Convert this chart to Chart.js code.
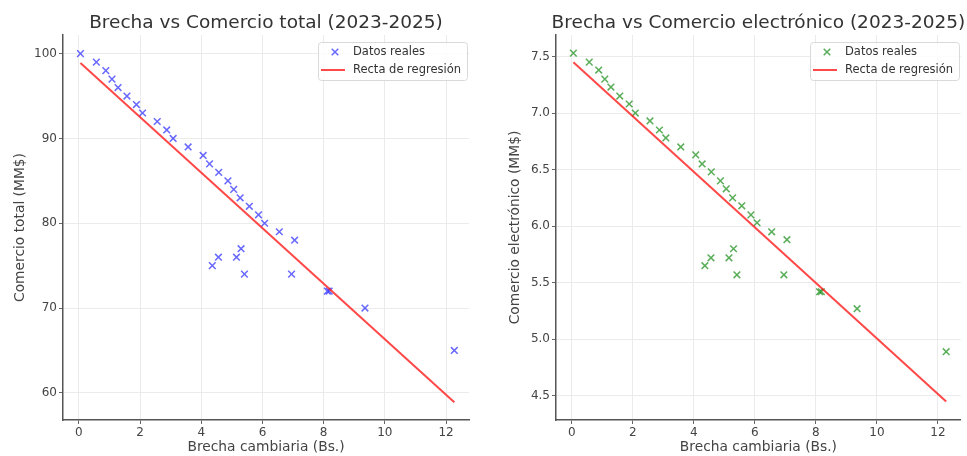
<!DOCTYPE html>
<html lang="es">
<head>
<meta charset="utf-8">
<title>Brecha cambiaria vs Comercio (2023-2025)</title>
<script src="https://cdn.jsdelivr.net/npm/chart.js@4.4.1/dist/chart.umd.min.js"></script>
<style>
  html, body { margin: 0; padding: 0; background: #fff; }
  #lienzo { position: relative; width: 967px; height: 456px; overflow: hidden; }
  canvas { position: absolute; top: 0; }
  #graficoTotal { left: 0; }
  #graficoElectronico { left: 484px; }
</style>
</head>
<body>
<div id="lienzo">
  <canvas id="graficoTotal" width="484" height="456"></canvas>
  <canvas id="graficoElectronico" width="483" height="456"></canvas>
</div>
<script>
// Datos (2023-2025)
const brecha = [0.05, 0.57, 0.88, 1.08, 1.28, 1.57, 1.88, 2.08, 2.56, 2.87, 3.08,
  3.57, 4.06, 4.27, 4.57, 4.87, 5.06, 5.27, 5.57, 5.87, 6.07, 6.55, 7.05,
  4.36, 4.56, 5.15, 5.30, 5.41, 6.95, 8.12, 8.18, 9.35, 12.27];
const comercioTotal = [100, 99, 98, 97, 96, 95, 94, 93, 92, 91, 90,
  89, 88, 87, 86, 85, 84, 83, 82, 81, 80, 79, 78,
  75, 76, 76, 77, 74, 74, 72, 72, 70, 65];
const comercioElectronico = [7.53, 7.45, 7.38, 7.30, 7.23, 7.15, 7.08, 7.00, 6.93, 6.85, 6.78,
  6.70, 6.63, 6.55, 6.48, 6.40, 6.33, 6.25, 6.18, 6.10, 6.03, 5.95, 5.88,
  5.65, 5.72, 5.72, 5.80, 5.57, 5.57, 5.42, 5.42, 5.27, 4.89];

// Extremos de las rectas de regresión
const regresionX = [0.05, 12.27];
const regresionTotal = [98.9, 58.9];
const regresionElectronico = [7.45, 4.45];

// Marcas de los ejes
const ticksBrecha = [0, 2, 4, 6, 8, 10, 12];
const ticksTotal = [60, 70, 80, 90, 100];
const ticksElectronico = [4.5, 5.0, 5.5, 6.0, 6.5, 7.0, 7.5];

Chart.defaults.font.family = "'DejaVu Sans', sans-serif";

// Título centrado sobre el área del gráfico y leyenda dentro, arriba a la derecha
const tituloYLeyenda = {
  id: "tituloYLeyenda",
  afterDraw(chart, args, opts) {
    const { ctx, chartArea } = chart;
    ctx.save();
    ctx.font = "18.5px 'DejaVu Sans'";
    ctx.fillStyle = "#333";
    ctx.textAlign = "center";
    ctx.textBaseline = "alphabetic";
    ctx.fillText(opts.titulo, (chartArea.left + chartArea.right) / 2, 28);

    ctx.font = "11.5px 'DejaVu Sans'";
    const datasets = chart.data.datasets;
    const anchoTexto = Math.max(...datasets.map((d) => ctx.measureText(d.label).width));
    const ancho = Math.round(35 + anchoTexto + 6);
    const alto = 38;
    const x0 = Math.round(chartArea.right - 2 - ancho);
    const y0 = Math.round(chartArea.top + 7);
    ctx.beginPath();
    ctx.roundRect(x0 + 0.5, y0 + 0.5, ancho, alto, 3);
    ctx.fillStyle = "rgba(255,255,255,0.85)";
    ctx.fill();
    ctx.strokeStyle = "#d9d9d9";
    ctx.lineWidth = 1;
    ctx.stroke();

    datasets.forEach((d, i) => {
      const yc = y0 + 10 + i * 18;
      ctx.strokeStyle = d.borderColor;
      if (d.showLine) {
        ctx.lineWidth = d.borderWidth;
        ctx.beginPath();
        ctx.moveTo(x0 + 3, yc);
        ctx.lineTo(x0 + 27, yc);
        ctx.stroke();
      } else {
        const r = 3.3;
        ctx.lineWidth = d.pointBorderWidth;
        ctx.beginPath();
        ctx.moveTo(x0 + 17 - r, yc - r);
        ctx.lineTo(x0 + 17 + r, yc + r);
        ctx.moveTo(x0 + 17 - r, yc + r);
        ctx.lineTo(x0 + 17 + r, yc - r);
        ctx.stroke();
      }
      ctx.fillStyle = "#333";
      ctx.textAlign = "left";
      ctx.textBaseline = "middle";
      ctx.fillText(d.label, x0 + 35, yc);
    });
    ctx.restore();
  },
};

function crearGrafico(id, cfg) {
  const puntos = brecha.map((x, i) => ({ x: x, y: cfg.valores[i] }));
  const recta = regresionX.map((x, i) => ({ x: x, y: cfg.regresion[i] }));

  return new Chart(document.getElementById(id), {
    type: "scatter",
    data: {
      datasets: [
        {
          label: "Datos reales",
          data: puntos,
          pointStyle: "crossRot",
          pointRadius: 4.7,
          pointHoverRadius: 4.7,
          pointBorderWidth: 1.5,
          borderColor: cfg.color,
          backgroundColor: cfg.color,
          order: 2,
        },
        {
          label: "Recta de regresión",
          data: recta,
          showLine: true,
          borderColor: "rgba(255, 20, 20, 0.78)",
          borderWidth: 2,
          pointRadius: 0,
          order: 1,
        },
      ],
    },
    options: {
      responsive: false,
      animation: false,
      devicePixelRatio: 1,
      layout: { padding: { top: 35, right: cfg.margenDer, left: 0, bottom: 0 } },
      plugins: {
        legend: { display: false },
        tooltip: { enabled: false },
        tituloYLeyenda: { titulo: cfg.titulo },
      },
      scales: {
        x: {
          type: "linear",
          min: -0.52,
          max: 12.75,
          afterFit: (s) => { s.height = 36; },
          afterBuildTicks: (s) => { s.ticks = ticksBrecha.map((v) => ({ value: v })); },
          ticks: { font: { size: 12 }, color: "#444", padding: 2, callback: (v) => String(v) },
          grid: { color: "#ebebeb", tickLength: 4, tickColor: "#666" },
          border: { color: "#555", width: 1.5 },
          title: {
            display: true,
            text: "Brecha cambiaria (Bs.)",
            font: { size: 13.8 },
            color: "#444",
            padding: { top: 0, bottom: 0 },
          },
        },
        y: {
          type: "linear",
          min: cfg.yMin,
          max: cfg.yMax,
          afterFit: (s) => { s.width = cfg.anchoEjeY; },
          afterBuildTicks: (s) => { s.ticks = cfg.ticks.map((v) => ({ value: v })); },
          ticks: { font: { size: 12 }, color: "#444", padding: 2, callback: cfg.formato },
          grid: { color: "#ebebeb", tickLength: 4, tickColor: "#666" },
          border: { color: "#555", width: 1.5 },
          title: {
            display: true,
            text: cfg.tituloY,
            font: { size: 13.8 },
            color: "#444",
            padding: { top: cfg.margenTituloY, bottom: 0 },
          },
        },
      },
    },
    plugins: [tituloYLeyenda],
  });
}

document.addEventListener("DOMContentLoaded", function () {
  crearGrafico("graficoTotal", {
    titulo: "Brecha vs Comercio total (2023-2025)",
    tituloY: "Comercio total (MM$)",
    valores: comercioTotal,
    regresion: regresionTotal,
    ticks: ticksTotal,
    formato: (v) => String(v),
    color: "rgba(40, 40, 255, 0.7)",
    yMin: 56.8,
    yMax: 102.2,
    anchoEjeY: 63,
    margenDer: 15,
    margenTituloY: 11.7,
  });

  crearGrafico("graficoElectronico", {
    titulo: "Brecha vs Comercio electrónico (2023-2025)",
    tituloY: "Comercio electrónico (MM$)",
    valores: comercioElectronico,
    regresion: regresionElectronico,
    ticks: ticksElectronico,
    formato: (v) => Number(v).toFixed(1),
    color: "rgba(20, 140, 20, 0.7)",
    yMin: 4.286,
    yMax: 7.69,
    anchoEjeY: 72,
    margenDer: 5,
    margenTituloY: 22.7,
  });
});
</script>
</body>
</html>
